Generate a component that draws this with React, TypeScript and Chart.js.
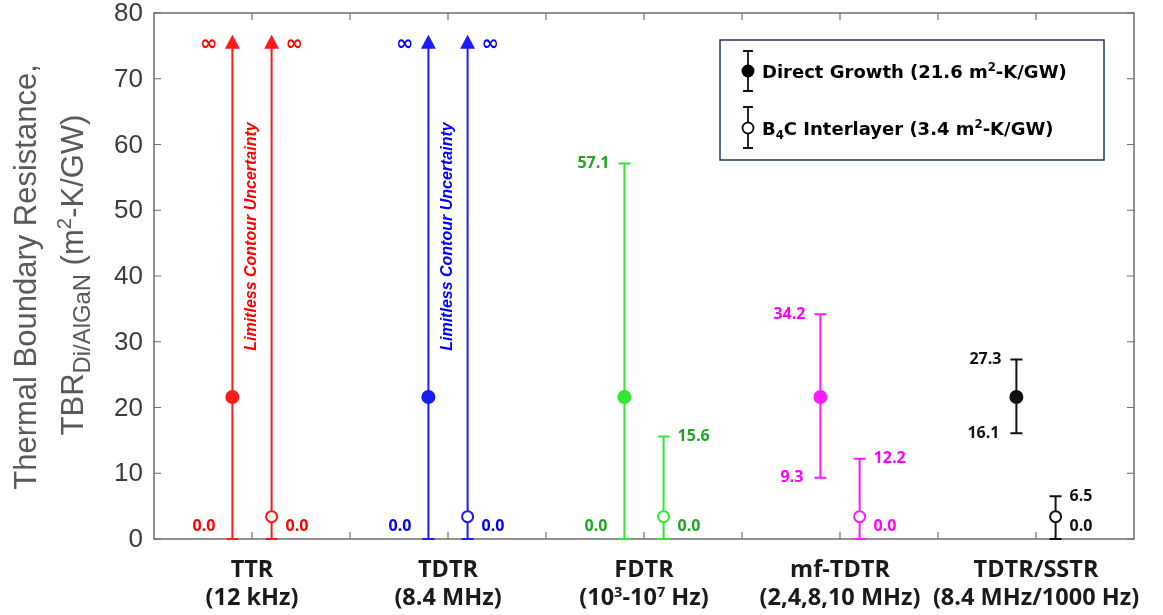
import React, { useEffect, useRef } from "react";
import { Chart, registerables } from "chart.js";

Chart.register(...registerables);

// ---------------- data ----------------
const categoryLines: string[][] = [
  ["TTR", "(12 kHz)"],
  ["TDTR", "(8.4 MHz)"],
  ["FDTR", "(10^{3}-10^{7} Hz)"],
  ["mf-TDTR", "(2,4,8,10 MHz)"],
  ["TDTR/SSTR", "(8.4 MHz/1000 Hz)"],
];
const groupPositions = [1, 2, 3, 4, 5];
const directValues = [21.6, 21.6, 21.6, 21.6, 21.6];
const directLower = [0.0, 0.0, 0.0, 9.3, 16.1];
const directUpper = [Infinity, Infinity, 57.1, 34.2, 27.3];
const interlayerValues = [3.4, 3.4, 3.4, 3.4, 3.4];
const interlayerLower = [0.0, 0.0, 0.0, 0.0, 0.0];
const interlayerUpper = [Infinity, Infinity, 15.6, 12.2, 6.5];
const lineColors = ["#ff1a1a", "#1a1aff", "#33e633", "#ff1aff", "#111111"];
const labelColors = ["#ff0000", "#0000ff", "#1fa61f", "#ff00ff", "#111111"];
const contourNotes = ["Limitless Contour Uncertainty", "Limitless Contour Uncertainty", "", "", ""];
const yTicks = [0, 10, 20, 30, 40, 50, 60, 70, 80];
const xTicks = [1, 1.5, 2, 2.5, 3, 3.5, 4, 4.5, 5];
const legendLabels = ["Direct Growth (21.6 m^{2}-K/GW)", "B_{4}C Interlayer (3.4 m^{2}-K/GW)"];
const yTitleLine1 = "Thermal Boundary Resistance,";
const yTitleLine2 = "TBR_{Di/AlGaN} (m^{2}-K/GW)";

// ---------------- styling constants ----------------
const OFFSET = 0.1;
const INF_DRAW = 75;
const NOTE_AT = 46;

type Seg = { t: string; k: "n" | "sup" | "sub" };
function parseRich(text: string): Seg[] {
  const out: Seg[] = [];
  const re = /(\^\{[^}]*\}|_\{[^}]*\})/g;
  let last = 0;
  let m: RegExpExecArray | null;
  while ((m = re.exec(text))) {
    if (m.index > last) out.push({ t: text.slice(last, m.index), k: "n" });
    const s = m[0];
    out.push({ t: s.slice(2, -1), k: s[0] === "^" ? "sup" : "sub" });
    last = m.index + s.length;
  }
  if (last < text.length) out.push({ t: text.slice(last), k: "n" });
  return out;
}

function drawRich(
  ctx: CanvasRenderingContext2D,
  text: string,
  x: number,
  y: number,
  size: number,
  o: {
    weight?: string;
    family: string;
    italic?: boolean;
    align?: "left" | "center" | "right";
    color: string;
    supScale?: number;
    subScale?: number;
    supShift?: number;
    subShift?: number;
  }
) {
  const segs = parseRich(text);
  const supScale = o.supScale ?? 0.65;
  const subScale = o.subScale ?? 0.65;
  const supShift = o.supShift ?? -0.38;
  const subShift = o.subShift ?? 0.22;
  const font = (s: number) => `${o.italic ? "italic " : ""}${o.weight ?? "normal"} ${s}px ${o.family}`;
  const sizes = segs.map((s) => (s.k === "n" ? size : s.k === "sup" ? size * supScale : size * subScale));
  const widths = segs.map((s, i) => {
    ctx.font = font(sizes[i]);
    return ctx.measureText(s.t).width;
  });
  const total = widths.reduce((a, b) => a + b, 0);
  let cx = o.align === "center" ? x - total / 2 : o.align === "right" ? x - total : x;
  ctx.fillStyle = o.color;
  ctx.textAlign = "left";
  ctx.textBaseline = "alphabetic";
  segs.forEach((s, i) => {
    ctx.font = font(sizes[i]);
    const dy = s.k === "sup" ? size * supShift : s.k === "sub" ? size * subShift : 0;
    ctx.fillText(s.t, cx, y + dy);
    cx += widths[i];
  });
  return total;
}

const fmt = (v: number) => v.toFixed(1);

const drawPlugin = {
  id: "tbrDecor",
  beforeDatasetsDraw(chart: any) {
    const ctx: CanvasRenderingContext2D = chart.ctx;
    const { left, right, top, bottom } = chart.chartArea;
    const xs = chart.scales.x;
    const ys = chart.scales.y;
    ctx.save();
    // axes box + inward ticks
    ctx.strokeStyle = "#6e6e6e";
    ctx.lineWidth = 1.5;
    ctx.strokeRect(left, top, right - left, bottom - top);
    ctx.lineWidth = 1.2;
    ctx.beginPath();
    xTicks.forEach((t) => {
      const x = xs.getPixelForValue(t);
      ctx.moveTo(x, bottom);
      ctx.lineTo(x, bottom - 7);
      ctx.moveTo(x, top);
      ctx.lineTo(x, top + 7);
    });
    yTicks.forEach((t) => {
      const y = ys.getPixelForValue(t);
      ctx.moveTo(left, y);
      ctx.lineTo(left + 7, y);
      ctx.moveTo(right, y);
      ctx.lineTo(right - 7, y);
    });
    ctx.stroke();

    // error bars
    const drawBar = (xv: number, lo: number, hi: number, color: string) => {
      const x = xs.getPixelForValue(xv);
      const yLo = ys.getPixelForValue(lo);
      ctx.strokeStyle = color;
      ctx.fillStyle = color;
      ctx.lineWidth = 2;
      ctx.beginPath();
      if (isFinite(hi)) {
        const yHi = ys.getPixelForValue(hi);
        ctx.moveTo(x, yLo);
        ctx.lineTo(x, yHi);
        ctx.moveTo(x - 6, yHi);
        ctx.lineTo(x + 6, yHi);
      } else {
        const yBase = ys.getPixelForValue(INF_DRAW - 0.3);
        ctx.moveTo(x, yLo);
        ctx.lineTo(x, yBase);
      }
      ctx.moveTo(x - 6, yLo);
      ctx.lineTo(x + 6, yLo);
      ctx.stroke();
      if (!isFinite(hi)) {
        const yBase = ys.getPixelForValue(INF_DRAW - 0.3);
        ctx.beginPath();
        ctx.moveTo(x - 7.5, yBase + 1);
        ctx.lineTo(x + 7.5, yBase + 1);
        ctx.lineTo(x, yBase - 13);
        ctx.closePath();
        ctx.fill();
      }
    };
    groupPositions.forEach((p, i) => {
      drawBar(p - OFFSET, directLower[i], directUpper[i], lineColors[i]);
      drawBar(p + OFFSET, interlayerLower[i], interlayerUpper[i], lineColors[i]);
    });
    ctx.restore();
  },
  afterDatasetsDraw(chart: any) {
    const ctx: CanvasRenderingContext2D = chart.ctx;
    const xs = chart.scales.x;
    const ys = chart.scales.y;
    ctx.save();
    const valFont = "bold 16px 'Open Sans', 'DejaVu Sans', sans-serif";
    const infFont = "bold 21px 'DejaVu Sans', sans-serif";
    const labelY = (v: number) => (v === 0 ? ys.getPixelForValue(0) - 13 : ys.getPixelForValue(v));
    const drawVal = (v: number, x: number, align: CanvasTextAlign, color: string) => {
      ctx.fillStyle = color;
      ctx.textAlign = align;
      ctx.textBaseline = "middle";
      if (!isFinite(v)) {
        ctx.font = infFont;
        ctx.fillText("∞", x, ys.getPixelForValue(INF_DRAW) - 1);
      } else {
        ctx.font = valFont;
        ctx.fillText(fmt(v), x, labelY(v));
      }
    };
    groupPositions.forEach((p, i) => {
      const xd = xs.getPixelForValue(p - OFFSET);
      const xi = xs.getPixelForValue(p + OFFSET);
      const c = labelColors[i];
      drawVal(directUpper[i], xd - 15, "right", c);
      drawVal(directLower[i], xd - 17, "right", c);
      drawVal(interlayerUpper[i], xi + 14, "left", c);
      drawVal(interlayerLower[i], xi + 14, "left", c);
      if (contourNotes[i]) {
        const xc = xs.getPixelForValue(p);
        const yc = ys.getPixelForValue(NOTE_AT);
        ctx.save();
        ctx.translate(xc, yc);
        ctx.rotate(-Math.PI / 2);
        ctx.font = "italic bold 16px 'Liberation Sans', Arial, sans-serif";
        ctx.fillStyle = labelColors[i];
        ctx.textAlign = "center";
        ctx.textBaseline = "middle";
        ctx.fillText(contourNotes[i], 0, 0);
        ctx.restore();
      }
    });
    ctx.restore();
  },
  afterDraw(chart: any) {
    const ctx: CanvasRenderingContext2D = chart.ctx;
    const { left, top, bottom } = chart.chartArea;
    const xs = chart.scales.x;
    const ys = chart.scales.y;
    ctx.save();
    // y tick labels
    ctx.font = "26px 'Liberation Sans', Arial, sans-serif";
    ctx.fillStyle = "#3c3c3c";
    ctx.textAlign = "right";
    ctx.textBaseline = "middle";
    yTicks.forEach((t) => ctx.fillText(String(t), left - 11, ys.getPixelForValue(t) + 1));

    // category labels
    groupPositions.forEach((p, i) => {
      const x = xs.getPixelForValue(p);
      categoryLines[i].forEach((line, j) => {
        drawRich(ctx, line, x, bottom + 38 + j * 28, 23.5, {
          weight: "bold",
          family: "'Open Sans', sans-serif",
          align: "center",
          color: "#1a1a1a",
          supScale: 0.62,
          supShift: -0.36,
        });
      });
    });

    // y title
    const yc = (top + bottom) / 2 + 1;
    ctx.save();
    ctx.translate(36, yc);
    ctx.rotate(-Math.PI / 2);
    drawRich(ctx, yTitleLine1, 0, 0, 31, {
      family: "'Liberation Sans', Arial, sans-serif",
      align: "center",
      color: "#595959",
    });
    ctx.restore();
    ctx.save();
    ctx.translate(83, yc - 2);
    ctx.rotate(-Math.PI / 2);
    drawRich(ctx, yTitleLine2, 0, 0, 31, {
      family: "'Liberation Sans', Arial, sans-serif",
      align: "center",
      color: "#595959",
      subScale: 0.77,
      subShift: 0.24,
      supScale: 0.66,
      supShift: -0.4,
    });
    ctx.restore();

    // legend
    const bx = 720, by = 40, bw = 384, bh = 120;
    ctx.fillStyle = "#ffffff";
    ctx.fillRect(bx, by, bw, bh);
    ctx.strokeStyle = "#1f3864";
    ctx.lineWidth = 1.5;
    ctx.strokeRect(bx, by, bw, bh);
    const items = [
      { y0: 51, y1: 91, cy: 71, filled: true, ty: 78 },
      { y0: 107, y1: 148, cy: 128, filled: false, ty: 135 },
    ];
    items.forEach((it, k) => {
      const ix = 748;
      ctx.strokeStyle = "#111111";
      ctx.lineWidth = 1.8;
      ctx.beginPath();
      ctx.moveTo(ix, it.y0);
      ctx.lineTo(ix, it.y1);
      ctx.moveTo(ix - 5, it.y0);
      ctx.lineTo(ix + 5, it.y0);
      ctx.moveTo(ix - 5, it.y1);
      ctx.lineTo(ix + 5, it.y1);
      ctx.stroke();
      ctx.beginPath();
      ctx.arc(ix, it.cy, it.filled ? 6.5 : 5.5, 0, Math.PI * 2);
      if (it.filled) {
        ctx.fillStyle = "#000000";
        ctx.fill();
      } else {
        ctx.fillStyle = "#ffffff";
        ctx.fill();
        ctx.lineWidth = 1.8;
        ctx.stroke();
      }
      drawRich(ctx, legendLabels[k], 762, it.ty, 18, {
        weight: "bold",
        family: "'DejaVu Sans', sans-serif",
        align: "left",
        color: "#000000",
        supScale: 0.65,
        supShift: -0.38,
        subScale: 0.65,
        subShift: 0.22,
      });
    });
    ctx.restore();
  },
};

export default function App() {
  const ref = useRef<HTMLCanvasElement | null>(null);
  useEffect(() => {
    document.body.style.margin = "0";
    const canvas = ref.current;
    if (!canvas) return;
    const chart = new Chart(canvas, {
      type: "scatter",
      data: {
        datasets: [
          {
            label: "Direct Growth",
            data: groupPositions.map((p, i) => ({ x: p - OFFSET, y: directValues[i] })),
            pointRadius: 7,
            pointHoverRadius: 7,
            pointBackgroundColor: lineColors,
            pointBorderColor: lineColors,
            pointBorderWidth: 0,
            showLine: false,
          },
          {
            label: "B4C Interlayer",
            data: groupPositions.map((p, i) => ({ x: p + OFFSET, y: interlayerValues[i] })),
            pointRadius: 5.5,
            pointHoverRadius: 5.5,
            pointBackgroundColor: "#ffffff",
            pointBorderColor: lineColors,
            pointBorderWidth: 2,
            showLine: false,
          },
        ],
      },
      options: {
        animation: false,
        responsive: false,
        devicePixelRatio: 1,
        layout: { padding: { left: 154, right: 29, top: 13, bottom: 76 } },
        scales: {
          x: { type: "linear", min: 0.5, max: 5.5, display: false },
          y: { type: "linear", min: 0, max: 80, display: false },
        },
        plugins: { legend: { display: false }, tooltip: { enabled: false } },
        events: [],
      },
      plugins: [drawPlugin],
    } as any);
    return () => chart.destroy();
  }, []);
  return (
    <div style={{ width: 1163, height: 615, background: "#ffffff" }}>
      <canvas ref={ref} width={1163} height={615} style={{ display: "block", width: 1163, height: 615 }} />
    </div>
  );
}
